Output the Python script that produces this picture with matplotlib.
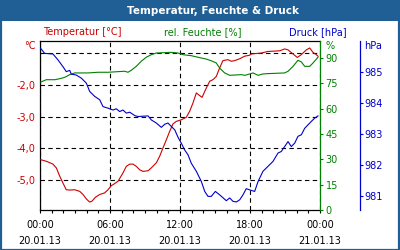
import matplotlib
matplotlib.use("Agg")
import matplotlib.pyplot as plt
from matplotlib.patches import Rectangle
from matplotlib.ticker import MultipleLocator

plt.rcParams['font.family'] = ['DejaVu Sans']

# ---- data (hours since 20.01.13 00:00) ----
p_hours = [0.06, 0.40, 1.11, 1.54, 1.97, 2.25, 2.55, 2.68, 3.11, 3.54, 3.97, 4.26, 4.69, 5.12, 5.40, 5.83,
           6.26, 6.54, 6.83, 7.11, 7.40, 7.69, 8.12, 8.40, 9.26, 9.54, 9.97, 10.40, 10.69, 10.97, 11.25,
           11.55, 11.83, 12.11, 12.40, 12.69, 12.97, 13.40, 13.83, 14.12, 14.40, 14.68, 15.03, 15.40,
           15.97, 16.26, 16.54, 16.83, 17.12, 17.40, 17.68, 17.97, 18.40, 18.69, 19.11, 19.54, 19.97,
           20.40, 20.68, 20.97, 21.26, 21.54, 21.83, 22.11, 22.40, 22.69, 22.97, 23.25, 23.55, 23.83]
pressure = [985.76, 985.60, 985.58, 985.39, 985.17, 985.01, 985.05, 984.93, 984.90, 984.80, 984.64,
            984.37, 984.21, 984.10, 983.88, 983.83, 983.77, 983.81, 983.72, 983.77, 983.67, 983.70,
            983.59, 983.56, 983.58, 983.45, 983.35, 983.21, 983.31, 983.35, 983.24, 983.13, 982.89,
            982.70, 982.48, 982.32, 982.05, 981.79, 981.46, 981.14, 980.98, 980.98, 981.14, 981.03,
            980.84, 980.93, 980.82, 980.80, 980.87, 981.03, 981.23, 981.19, 981.14, 981.46, 981.79,
            981.95, 982.11, 982.38, 982.43, 982.59, 982.75, 982.59, 982.70, 982.92, 982.97, 983.18,
            983.29, 983.40, 983.51, 983.58]

h_hours = [0.06, 0.54, 1.29, 1.69, 2.12, 2.55, 2.97, 4.11, 4.97, 5.83, 7.26, 7.54, 7.83, 8.25, 8.68,
           9.11, 9.54, 9.97, 10.69, 11.25, 11.83, 12.26, 12.97, 13.54, 14.25, 14.68, 15.11, 15.40,
           15.83, 16.26, 17.25, 17.57, 18.26, 18.69, 19.11, 19.54, 20.97, 21.26, 21.69, 22.11, 22.40,
           22.69, 23.12, 23.40, 23.83]
humidity = [75.7, 77.1, 77.1, 77.7, 78.5, 80.1, 81.1, 81.1, 81.5, 81.5, 82.1, 81.5, 82.7, 85.0, 88.0,
            90.4, 91.9, 92.9, 93.1, 93.3, 92.9, 91.9, 91.3, 90.4, 89.3, 88.3, 87.0, 84.0, 81.1, 79.7,
            80.1, 79.7, 81.1, 79.7, 80.5, 80.7, 81.1, 82.1, 85.0, 88.6, 87.6, 85.0, 85.0, 87.0, 90.4]

t_hours = [0.06, 0.54, 1.11, 1.40, 1.69, 1.97, 2.25, 2.55, 2.97, 3.40, 3.69, 3.97, 4.26, 4.46, 4.74,
           5.12, 5.54, 5.83, 6.11, 6.26, 6.69, 7.11, 7.40, 7.69, 7.97, 8.25, 8.55, 8.83, 9.26, 9.54,
           9.97, 10.26, 10.54, 10.83, 11.12, 11.40, 11.68, 12.11, 12.54, 12.83, 13.11, 13.40, 13.60,
           13.89, 14.25, 14.55, 14.83, 15.11, 15.40, 15.68, 16.11, 16.40, 16.69, 17.12, 17.54, 17.97,
           18.11, 18.97, 19.54, 20.55, 20.97, 21.26, 21.69, 22.05, 22.40, 22.83, 23.12, 23.40, 23.68,
           23.83]
temperature = [-4.36, -4.41, -4.50, -4.62, -4.88, -5.10, -5.31, -5.32, -5.31, -5.36, -5.46, -5.60,
               -5.70, -5.67, -5.55, -5.46, -5.41, -5.31, -5.18, -5.15, -5.04, -4.78, -4.57, -4.50,
               -4.50, -4.57, -4.68, -4.73, -4.71, -4.62, -4.46, -4.25, -3.99, -3.73, -3.46, -3.23,
               -3.15, -3.10, -3.02, -2.83, -2.57, -2.25, -2.31, -2.39, -2.10, -1.88, -1.83, -1.73,
               -1.46, -1.23, -1.20, -1.25, -1.23, -1.17, -1.09, -1.06, -1.02, -0.99, -0.94, -0.92,
               -0.86, -0.89, -1.02, -1.13, -1.04, -0.89, -0.83, -0.97, -1.04, -1.09]

x_ticks = [0, 6, 12, 18, 24]
x_labels = ["00:00\n20.01.13", "06:00\n20.01.13", "12:00\n20.01.13", "18:00\n20.01.13", "00:00\n21.01.13"]
t_ticks = [-5, -4, -3, -2, -1]
t_labels = ["-5,0", "-4,0", "-3,0", "-2,0", ""]
h_ticks = [0, 15, 30, 45, 60, 75, 90]
p_ticks = [981, 982, 983, 984, 985]

RED = '#cc0000'
GREEN = '#008000'
BLUE = '#0000cc'
FRAME = '#1f5f96'
FS = 7

fig = plt.figure(figsize=(4, 2.5), dpi=100)
fig.patch.set_facecolor('white')
W, H = 400.0, 250.0

# title bar and frame
fig.patches.append(Rectangle((0, 1 - 21 / H), 1, 21 / H, transform=fig.transFigure,
                             facecolor=FRAME, edgecolor='none', zorder=0))
fig.patches.append(Rectangle((0.5 / W, 0.5 / H), 1 - 1.5 / W, 1 - 1 / H, transform=fig.transFigure,
                             facecolor='none', edgecolor=FRAME, linewidth=1.6, zorder=1))
fig.text(213 / W, 1 - 10.5 / H, "Temperatur, Feuchte & Druck", color='white', fontsize=7.5,
         fontweight='bold', ha='center', va='center')

# legend texts
fig.text(43 / W, 1 - 32 / H, "Temperatur [°C]", color=RED, fontsize=FS, ha='left', va='center')
fig.text(203 / W, 1 - 32 / H, "rel. Feuchte [%]", color=GREEN, fontsize=FS, ha='center', va='center')
fig.text(347 / W, 1 - 32 / H, "Druck [hPa]", color=BLUE, fontsize=FS, ha='right', va='center')

ax = fig.add_axes([40 / W, 40 / H, 280 / W, 169 / H])
ax.set_facecolor('none')
ax.set_xlim(0, 24)
ax.set_ylim(-5.95, -0.61)

ax2 = ax.twinx()
ax2.set_ylim(0, 100)
ax3 = ax.twinx()
ax3.set_ylim(980.54, 986.0)

ax.plot(t_hours, temperature, color=RED, lw=0.8, zorder=3)
ax2.plot(h_hours, humidity, color=GREEN, lw=0.8, zorder=3)
ax3.plot(p_hours, pressure, color=BLUE, lw=0.8, zorder=3)

# main axis styling
ax.set_xticks(x_ticks)
ax.set_xticklabels(x_labels, fontsize=FS, linespacing=1.75)
ax.xaxis.set_minor_locator(MultipleLocator(1))
ax.tick_params(axis='x', which='both', direction='out', length=2.5, width=0.8, pad=5, color='black')
ax.set_yticks(t_ticks)
ax.set_yticklabels(t_labels, fontsize=FS, color=RED)
ax.tick_params(axis='y', length=0, pad=3.5)
ax.grid(True, color='black', linestyle=(0, (4, 3)), linewidth=0.8)
for s in ['left', 'bottom', 'top']:
    ax.spines[s].set_color('black')
    ax.spines[s].set_linewidth(0.9)
ax.spines['right'].set_visible(False)

ax2.set_yticks(h_ticks)
ax2.tick_params(axis='y', colors=GREEN, labelsize=FS, length=2.5, width=0.8, pad=1.5)
ax2.spines['right'].set_color(GREEN)
ax2.spines['right'].set_linewidth(0.9)
for s in ['left', 'top', 'bottom']:
    ax2.spines[s].set_visible(False)

ax3.spines['right'].set_position(('axes', 320 / 280))
ax3.set_yticks(p_ticks)
ax3.tick_params(axis='y', colors=BLUE, labelsize=FS, length=2, width=0.8, pad=1.5)
ax3.spines['right'].set_color(BLUE)
ax3.spines['right'].set_linewidth(0.9)
for s in ['left', 'top', 'bottom']:
    ax3.spines[s].set_visible(False)

# unit labels
fig.text(36 / W, 1 - 46 / H, "°C", color=RED, fontsize=FS, ha='right', va='center')
fig.text(325 / W, 1 - 46 / H, "%", color=GREEN, fontsize=FS, ha='left', va='center')
fig.text(364 / W, 1 - 46 / H, "hPa", color=BLUE, fontsize=FS, ha='left', va='center')

fig.savefig("out.png", dpi=100)
